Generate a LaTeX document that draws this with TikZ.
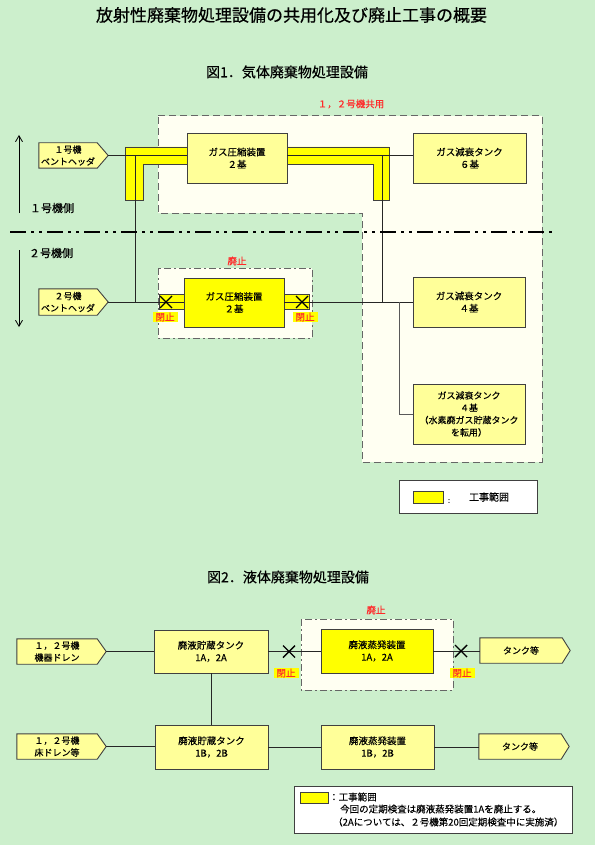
\documentclass[tikz,border=0pt]{standalone}
\usepackage{fontspec}
\setmainfont{Noto Sans CJK JP}[FakeBold=0.1]
\newfontfamily\heavy{Noto Sans CJK JP}[FakeBold=0.5]
\usetikzlibrary{shapes.misc,arrows.meta}
\pgfdeclarelayer{back}
\pgfsetlayers{back,main}
\definecolor{bgg}{HTML}{CCEFCC}
\definecolor{lite}{HTML}{FFFF99}
\definecolor{brt}{HTML}{FFFF00}
\definecolor{ivory}{HTML}{FFFFF2}
\definecolor{edge}{HTML}{404040}
\definecolor{rd}{HTML}{FF2A2A}
\tikzset{
 box/.style={draw=edge, line width=0.9pt, fill=lite, align=center, inner sep=0pt, font=\fontsize{9.5}{12.3}\selectfont},
 hot/.style={box, fill=brt},
 pentbody/.style={align=center, inner sep=0pt, font=\fontsize{9}{12}\selectfont},
 pentline/.style={draw=edge, line width=0.9pt, fill=lite},
 conn/.style={draw=black!85, line width=0.8pt},
 band/.style={fill=brt, draw=edge, line width=0.6pt},
 region/.style={fill=ivory, draw=edge!80, line width=1pt, dash pattern=on 7pt off 4pt},
 dregion/.style={fill=ivory, draw=edge!80, line width=1pt, dash pattern=on 7pt off 3pt on 2pt off 3pt},
 xmark/.style={cross out, draw=black, line width=1.4pt, minimum size=12pt, inner sep=0pt, outer sep=0pt},
 closed/.style={fill=brt, text=rd, inner xsep=3pt, inner ysep=1pt, font=\fontsize{9.5}{10}\selectfont},
 redlbl/.style={text=rd, font=\fontsize{9.5}{11}\selectfont, inner sep=0pt},
 side/.style={font=\heavy\fontsize{11}{12}\selectfont, inner sep=0pt},
 ftitle/.style={font=\heavy\fontsize{14}{16}\selectfont, inner sep=0pt},
 sidearrow/.style={-{Straight Barb[length=6pt,width=7pt]}, line width=0.8pt},
 legtext/.style={anchor=west, inner sep=0pt, font=\fontsize{9.5}{11}\selectfont},
}
\begin{document}
\begin{tikzpicture}[x=1pt,y=-1pt]
\useasboundingbox (0,0) rectangle (595,845);
\begin{pgfonlayer}{back}
\fill[bgg] (0,0) rectangle (595,845);
\end{pgfonlayer}

% titles
\node[inner sep=0pt, font=\heavy\fontsize{17}{19}\selectfont] (ttl) at (291.5,15) {放射性廃棄物処理設備の共用化及び廃止工事の概要};
\node[ftitle] (f1) at (287,72) {図1．気体廃棄物処理設備};

% regions
\path[region] (158,116) -- (542,116) -- (542,462) -- (362,462) -- (362,213) -- (158,213) -- cycle;
\node[redlbl] (shared) at (351,104) {１，２号機共用};
\path[dregion] (158,268) rectangle (312,338);
\node[redlbl] (abol1) at (237,261) {廃止};

% construction range bands
\path[band] (125,200) -- (125,147) -- (187,147) -- (187,164) -- (143,164) -- (143,200) -- cycle;
\path[band] (287,147) -- (389,147) -- (389,200) -- (373,200) -- (373,164) -- (287,164) -- cycle;
\path[band] (159,294) rectangle (184,309);
\path[band] (284,294) rectangle (309,309);

% fig1 nodes
\node[box, minimum width=100pt, minimum height=50pt] (comp1) at (237,158) {ガス圧縮装置\\２基};
\node[box, minimum width=113pt, minimum height=50pt] (dec6) at (469.5,158) {ガス減衰タンク\\６基};
\node[hot, minimum width=100pt, minimum height=49pt] (comp2) at (234,302.5) {ガス圧縮装置\\２基};
\node[box, minimum width=112pt, minimum height=50pt] (dec4) at (469,302) {ガス減衰タンク\\４基};
\node[box, minimum width=112pt, minimum height=60pt, font=\fontsize{9}{12.3}\selectfont] (decH) at (469,414) {ガス減衰タンク\\４基\\（水素廃ガス貯蔵タンク\\を転用）};

\node[pentbody, minimum width=58pt, minimum height=25pt] (vent1) at (68,155.5) {１号機\\ベントヘッダ};
\coordinate (vent1tip) at ([xshift=11pt]vent1.east);
\node[pentbody, minimum width=58pt, minimum height=26pt] (vent2) at (68,302) {２号機\\ベントヘッダ};
\coordinate (vent2tip) at ([xshift=11pt]vent2.east);
\begin{pgfonlayer}{back}
\draw[pentline] (vent1.north west) -- (vent1.north east) -- (vent1tip) -- (vent1.south east) -- (vent1.south west) -- cycle;
\draw[pentline] (vent2.north west) -- (vent2.north east) -- (vent2tip) -- (vent2.south east) -- (vent2.south west) -- cycle;
\end{pgfonlayer}

% fig1 connectors
\coordinate (j1) at (135,155.5);
\coordinate (j3) at (382,155.5);
\coordinate (j5) at (399,302);
\draw[conn] (vent1tip) -- (vent1tip -| comp1.west);
\draw[conn] (vent1tip -| comp1.east) -- (vent1tip -| dec6.west);
\draw[conn] (j1) -- (j1 |- vent2tip);
\draw[conn] (vent2tip) -- (vent2tip -| comp2.west);
\draw[conn] (vent2tip -| comp2.east) -- (vent2tip -| dec4.west);
\draw[conn] (j3) -- (j3 |- vent2tip);
\draw[conn, draw=black!65, line width=1pt] (j5) |- (decH.west);

\node[xmark] (x1) at (166,302) {};
\node[xmark] (x2) at (302,302) {};
\node[closed] (c1) at (165,317) {閉止};
\node[closed] (c2) at (305,317) {閉止};

% separator and sides
\coordinate (sepL) at (10,232);
\coordinate (sepR) at (556,232);
\draw[line width=2.5pt, dash pattern=on 16pt off 5pt on 3pt off 5pt on 3pt off 5pt] (sepL) -- (sepR);
\coordinate (a1s) at (19,213);
\coordinate (a1e) at (19,135);
\coordinate (a2s) at (19,250);
\coordinate (a2e) at (19,327);
\draw[sidearrow] (a1s) -- (a1e);
\draw[sidearrow] (a2s) -- (a2e);
\node[side] (s1) at (52,208) {１号機側};
\node[side] (s2) at (51,253) {２号機側};

% legend 1
\node[draw=edge, line width=1pt, fill=white, minimum width=138pt, minimum height=33pt, inner sep=0pt] (leg1) at (468,496.5) {};
\node[draw=edge, line width=0.8pt, fill=brt, minimum width=30pt, minimum height=12pt, inner sep=0pt] (sw1) at (428,497) {};
\node[inner sep=0pt, font=\fontsize{7}{8}\selectfont] (colon1) at (449,501) {:};
\node[inner sep=0pt, font=\fontsize{10}{12}\selectfont] (leg1t) at (489,497) {工事範囲};

% figure 2
\node[ftitle] (f2) at (288,577) {図2．液体廃棄物処理設備};
\path[dregion] (301,619) rectangle (453,690);
\node[redlbl] (abol2) at (376,610) {廃止};

\node[pentbody, minimum width=80pt, minimum height=25pt] (drain1) at (57,651.5) {１，２号機\\機器ドレン};
\coordinate (drain1tip) at ([xshift=9pt]drain1.east);
\node[pentbody, minimum width=80pt, minimum height=25pt] (drain2) at (57,746.5) {１，２号機\\床ドレン等};
\coordinate (drain2tip) at ([xshift=9pt]drain2.east);
\node[pentbody, minimum width=82pt, minimum height=25pt] (tankA) at (521,650.5) {タンク等};
\coordinate (tankAtip) at ([xshift=8pt]tankA.east);
\node[pentbody, minimum width=82pt, minimum height=25pt] (tankB) at (520,746.5) {タンク等};
\coordinate (tankBtip) at ([xshift=8pt]tankB.east);
\begin{pgfonlayer}{back}
\draw[pentline] (drain1.north west) -- (drain1.north east) -- (drain1tip) -- (drain1.south east) -- (drain1.south west) -- cycle;
\draw[pentline] (drain2.north west) -- (drain2.north east) -- (drain2tip) -- (drain2.south east) -- (drain2.south west) -- cycle;
\draw[pentline] (tankA.north west) -- (tankA.north east) -- (tankAtip) -- (tankA.south east) -- (tankA.south west) -- cycle;
\draw[pentline] (tankB.north west) -- (tankB.north east) -- (tankBtip) -- (tankB.south east) -- (tankB.south west) -- cycle;
\end{pgfonlayer}

\node[box, minimum width=114pt, minimum height=43pt] (storA) at (211,651.5) {廃液貯蔵タンク\\1A，2A};
\node[hot, minimum width=112pt, minimum height=44pt] (evapA) at (377,651) {廃液蒸発装置\\1A，2A};
\node[box, minimum width=113pt, minimum height=44pt] (storB) at (211.5,747) {廃液貯蔵タンク\\1B，2B};
\node[box, minimum width=113pt, minimum height=44pt] (evapB) at (377.5,747) {廃液蒸発装置\\1B，2B};

\draw[conn] (drain1tip) -- (drain1tip -| storA.west);
\draw[conn] (storA.east) -- (storA.east -| evapA.west);
\draw[conn] (evapA.east) -- (evapA.east -| tankA.west);
\draw[conn] (storA.south) -- (storA.south |- storB.north);
\draw[conn] (drain2tip) -- (drain2tip -| storB.west);
\draw[conn] (storB.east) -- (storB.east -| evapB.west);
\draw[conn] (evapB.east) -- (evapB.east -| tankB.west);

\node[xmark] (x3) at (289,651.5) {};
\node[xmark] (x4) at (461,651) {};
\node[closed] (c3) at (286,673) {閉止};
\node[closed] (c4) at (462,673) {閉止};

% legend 2
\node[draw=edge, line width=1pt, fill=white, minimum width=278pt, minimum height=47pt, inner sep=0pt] (leg2) at (433,809.5) {};
\node[draw=edge, line width=0.8pt, fill=brt, minimum width=28pt, minimum height=11pt, inner sep=0pt] (sw2) at (314,797.5) {};
\node[legtext] (l2a) at (329,797) {：工事範囲};
\node[legtext] (l2b) at (340,809) {今回の定期検査は廃液蒸発装置1Aを廃止する。};
\node[legtext] (l2c) at (333,822) {（2Aについては、２号機第20回定期検査中に実施済）};
\end{tikzpicture}
\end{document}
